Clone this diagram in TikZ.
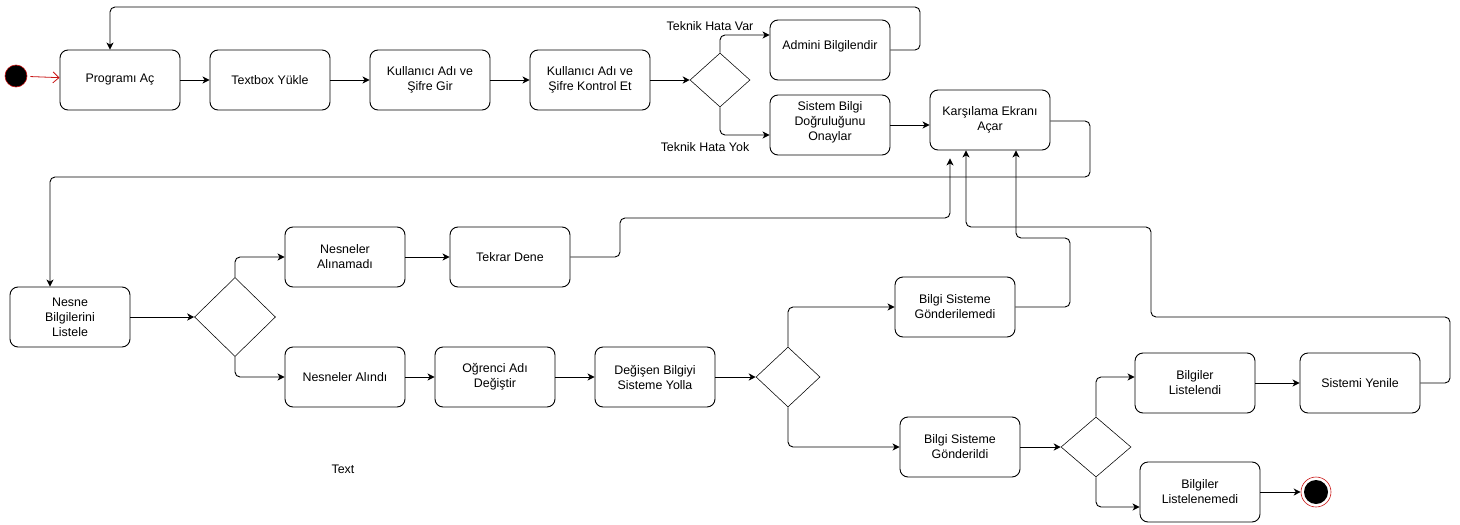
\documentclass[tikz,border=0pt]{standalone}
\usepackage{fontspec}
\setmainfont{Liberation Sans}
\usetikzlibrary{shapes.geometric,arrows.meta,calc}
\definecolor{umlred}{RGB}{200,20,20}
\begin{document}
\begin{tikzpicture}[x=1pt,y=-1pt,
  every node/.style={font=\fontsize{12.4}{15}\selectfont},
  act/.style={draw, line width=0.9pt, rounded corners=8pt, minimum width=120pt, minimum height=60pt, inner sep=0pt, align=center},
  dec/.style={draw, line width=0.55pt, diamond, inner sep=0pt},
  lbl/.style={inner sep=0pt},
  flow/.style={line width=0.9pt, rounded corners=5pt, -{Stealth[length=7pt,width=7pt,inset=2pt]}}
]
\useasboundingbox (0,0) rectangle (1460,525);
% start / end
\node[circle, fill=black, draw=umlred, line width=0.6pt, minimum size=22pt, inner sep=0pt] (start) at (16,76) {};
% top row
\node[act] (prog) at (120,80) {Programı Aç};
\node[act] (tbox) at (270,80) {Textbox Yükle};
\node[act] (kgir) at (430,80) {Kullanıcı Adı ve\\Şifre Gir};
\node[act] (kkon) at (590,80) {Kullanıcı Adı ve\\Şifre Kontrol Et};
\node[dec, minimum width=60pt, minimum height=54pt] (d1) at (720,80) {};
\node[act] (admin) at (830,50) {};
\node[lbl] (admint) at (830,46) {Admini Bilgilendir};
\node[act] (sbd) at (830,125) {};
\node[lbl, align=center] (sbdt) at (830,122) {Sistem Bilgi\\Doğruluğunu\\Onaylar};
\node[act] (kars) at (990,120) {Karşılama Ekranı\\Açar};
\node[lbl] (thv) at (710,26) {Teknik Hata Var};
\node[lbl] (thy) at (705,147) {Teknik Hata Yok};
% middle
\node[act] (nesne) at (70,317) {Nesne\\Bilgilerini\\Listele};
\node[dec, minimum width=81pt, minimum height=79pt] (d2) at (235,317) {};
\node[act] (nal) at (345,257) {Nesneler\\Alınamadı};
\node[act] (tekrar) at (510,257) {Tekrar Dene};
\node[act] (nald) at (345,377) {Nesneler Alındı};
\node[act] (ogr) at (495,377) {Oğrenci Adı\\Değiştir};
\node[act] (deg) at (655,377) {Değişen Bilgiyi\\Sisteme Yolla};
\node[dec, minimum width=64pt, minimum height=60pt] (d3) at (788,377) {};
\node[act] (bsgm) at (955,307) {Bilgi Sisteme\\Gönderilemedi};
\node[act] (bsg) at (960,447) {Bilgi Sisteme\\Gönderildi};
\node[dec, minimum width=70pt, minimum height=60pt] (d4) at (1096,447) {};
\node[act] (blist) at (1195,383) {Bilgiler\\Listelendi};
\node[act] (syen) at (1360,383) {Sistemi Yenile};
\node[act] (blno) at (1200,492) {Bilgiler\\Listelenemedi};
\node[circle, draw=umlred, line width=0.6pt, minimum size=30pt, inner sep=0pt] (end) at (1316,492) {};
\fill (end.center) circle (12pt);
\node[lbl] (txt) at (343,469) {Text};
% connectors
\draw[umlred, line width=0.8pt, shorten <=3pt, -{Straight Barb[length=6pt,width=11pt]}] (start) -- (prog);
\draw[flow] (prog) -- (tbox);
\draw[flow] (tbox) -- (kgir);
\draw[flow] (kgir) -- (kkon);
\draw[flow] (kkon) -- (d1);
\draw[flow] (d1.north) |- ([yshift=15pt]admin.west);
\draw[flow] (d1.south) |- ([yshift=-10pt]sbd.west);
\draw[flow] (admin.east) -| (920,7) -| ([xshift=-10pt]prog.north);
\draw[flow] (sbd.east) -- (sbd.east -| kars.west);
\draw[flow] ([yshift=-1pt]kars.east) -| (1090,177) -| ([xshift=-20pt]nesne.north);
\draw[flow] (nesne) -- (d2);
\draw[flow] (d2.north) |- (nal.west);
\draw[flow] (d2.south) |- (nald.west);
\draw[flow] (nal) -- (tekrar);
\draw[flow] (nald) -- (ogr);
\draw[flow] (ogr) -- (deg);
\draw[flow] (deg) -- (d3);
\draw[flow] (tekrar.east) -| (620,218) -| ([shift={(-40pt,-8pt)}]kars.south);
\draw[flow] (d3.north) |- (bsgm.west);
\draw[flow] (d3.south) |- (bsg.west);
\draw[flow] (bsgm.east) -| (1070,238) -| ([xshift=26pt]kars.south);
\draw[flow] (bsg) -- (d4);
\draw[flow] (d4.north) |- ([yshift=6pt]blist.west);
\draw[flow] (d4.south) |- ([yshift=-15pt]blno.west);
\draw[flow] (blist) -- (syen);
\draw[flow] (blno) -- (end);
\draw[flow] (syen.east) -| (1450,317) -| (1151,227) -| ([xshift=-24pt]kars.south);
\end{tikzpicture}
\end{document}
